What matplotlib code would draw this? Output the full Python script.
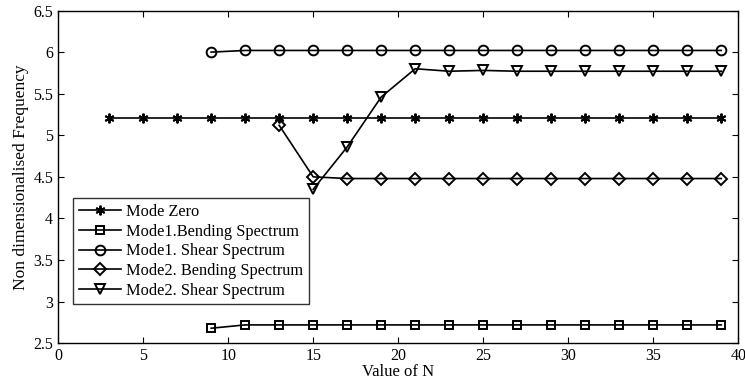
import matplotlib
matplotlib.use("Agg")
import matplotlib.pyplot as plt

plt.rcParams["font.family"] = ["Liberation Serif", "DejaVu Serif"]

# Data
n_zero = [3, 5, 7, 9, 11, 13, 15, 17, 19, 21, 23, 25, 27, 29, 31, 33, 35, 37, 39]
f_zero = [5.21] * len(n_zero)

n_m1 = [9, 11, 13, 15, 17, 19, 21, 23, 25, 27, 29, 31, 33, 35, 37, 39]
f_m1_bend = [2.68, 2.72, 2.72, 2.72, 2.72, 2.72, 2.72, 2.72,
             2.72, 2.72, 2.72, 2.72, 2.72, 2.72, 2.72, 2.72]
f_m1_shear = [6.0, 6.02, 6.02, 6.02, 6.02, 6.02, 6.02, 6.02,
              6.02, 6.02, 6.02, 6.02, 6.02, 6.02, 6.02, 6.02]

n_m2_bend = [13, 15, 17, 19, 21, 23, 25, 27, 29, 31, 33, 35, 37, 39]
f_m2_bend = [5.12, 4.50, 4.48, 4.48, 4.48, 4.48, 4.48, 4.48,
             4.48, 4.48, 4.48, 4.48, 4.48, 4.48]

n_m2_shear = [15, 17, 19, 21, 23, 25, 27, 29, 31, 33, 35, 37, 39]
f_m2_shear = [4.35, 4.86, 5.46, 5.80, 5.77, 5.78, 5.77, 5.77,
              5.77, 5.77, 5.77, 5.77, 5.77]

fig = plt.figure(figsize=(7.45, 3.9), dpi=100)
ax = fig.add_axes([0.078, 0.12, 0.913, 0.853])

style = dict(color="black", lw=1.2, markerfacecolor="none",
             markeredgecolor="black", markeredgewidth=1.4)
ax.plot(n_zero, f_zero, marker=(6, 2, 0), ms=7, label="Mode Zero", **style)
ax.plot(n_m1, f_m1_bend, marker="s", ms=6, label="Mode1.Bending Spectrum", **style)
ax.plot(n_m1, f_m1_shear, marker="o", ms=7, label="Mode1. Shear Spectrum", **style)
ax.plot(n_m2_bend, f_m2_bend, marker="D", ms=6, label="Mode2. Bending Spectrum", **style)
ax.plot(n_m2_shear, f_m2_shear, marker="v", ms=7.5, label="Mode2. Shear Spectrum", **style)

ax.set_xlim(0, 40)
ax.set_ylim(2.5, 6.5)
ax.set_xticks(range(0, 41, 5))
ax.set_yticks([2.5, 3, 3.5, 4, 4.5, 5, 5.5, 6, 6.5])
ax.set_yticklabels(["2.5", "3", "3.5", "4", "4.5", "5", "5.5", "6", "6.5"])
ax.tick_params(direction="in", top=True, right=True, labelsize=11.5, length=4)
for s in ax.spines.values():
    s.set_linewidth(1.0)

ax.set_xlabel("Value of N", fontsize=12, labelpad=0)
ax.set_ylabel("Non dimensionalised Frequency", fontsize=12.5, labelpad=3)

leg = ax.legend(loc="lower left", bbox_to_anchor=(0.022, 0.117), fontsize=11.8,
                frameon=True, fancybox=False, edgecolor="black",
                handlelength=2.6, borderpad=0.35, labelspacing=0.22,
                handletextpad=0.3, borderaxespad=0)
leg.get_frame().set_linewidth(1.0)

fig.savefig("out.png", dpi=100)
